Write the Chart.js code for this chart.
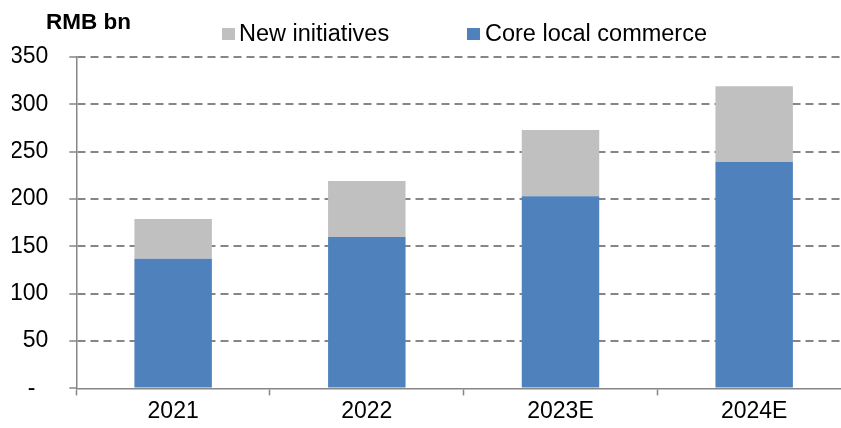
<!DOCTYPE html>
<html>
<head>
<meta charset="utf-8">
<script src="https://cdn.jsdelivr.net/npm/chart.js@4"></script>
<style>
  html, body { margin: 0; padding: 0; background: #fff; overflow: hidden; }
  #wrap { position: relative; width: 841px; height: 428px; overflow: hidden; }
  #chart { position: absolute; left: 0; top: 0; }
  .txt { position: absolute; font-family: "Liberation Sans", Arial, sans-serif; color: #000; white-space: nowrap; }
  #unit { left: 46px; top: 10px; font-size: 22.5px; line-height: 24px; font-weight: bold; }
  .key { position: absolute; width: 13px; height: 12px; top: 28px; }
  .lab { font-size: 23.5px; line-height: 24px; top: 21px; }
</style>
</head>
<body>
<div id="wrap">
  <canvas id="chart" width="851" height="428"></canvas>
  <div class="txt" id="unit">RMB bn</div>
  <div id="legend"></div>
</div>
<script>
// Revenue split by year, RMB bn
const years = ['2021', '2022', '2023E', '2024E'];
const coreLocalCommerce = [137, 160, 203, 239];
const newInitiatives = [42, 59, 70, 80];
const seriesNames = ['Core local commerce', 'New initiatives'];
const seriesColors = ['#4F81BD', '#C0C0C0'];
const yTicks = [0, 50, 100, 150, 200, 250, 300, 350];

const axisGrey = '#868686';
const tickFont = { family: '"Liberation Sans", Arial, sans-serif', size: 23 };

// Legend row above the plot (New initiatives first, then Core local commerce)
const legendItems = [
  { name: seriesNames[1], color: seriesColors[1], boxX: 222, textX: 239 },
  { name: seriesNames[0], color: seriesColors[0], boxX: 467, textX: 485 }
];
const legendEl = document.getElementById('legend');
legendItems.forEach(it => {
  const box = document.createElement('div');
  box.className = 'key';
  box.style.left = it.boxX + 'px';
  box.style.background = it.color;
  legendEl.appendChild(box);
  const t = document.createElement('div');
  t.className = 'txt lab';
  t.style.left = it.textX + 'px';
  t.textContent = it.name;
  legendEl.appendChild(t);
});

new Chart(document.getElementById('chart'), {
  type: 'bar',
  data: {
    labels: years,
    datasets: [
      { label: seriesNames[0], data: coreLocalCommerce, backgroundColor: seriesColors[0], borderWidth: 0 },
      { label: seriesNames[1], data: newInitiatives, backgroundColor: seriesColors[1], borderWidth: 0 }
    ]
  },
  options: {
    responsive: false,
    animation: false,
    layout: { padding: { left: 12, right: 0, top: 57, bottom: 1 } },
    datasets: { bar: { categoryPercentage: 1.0, barPercentage: 0.4 } },
    plugins: { legend: { display: false }, tooltip: { enabled: false }, title: { display: false } },
    scales: {
      x: {
        stacked: true,
        offset: true,
        grid: {
          offset: true,
          drawOnChartArea: false,
          drawTicks: true,
          tickLength: 7,
          tickColor: axisGrey,
          tickWidth: 1.5,
          color: axisGrey
        },
        border: { display: true, color: axisGrey, width: 1.5 },
        ticks: { color: '#000', font: tickFont, padding: 2, maxRotation: 0 }
      },
      y: {
        stacked: true,
        min: yTicks[0],
        max: yTicks[yTicks.length - 1],
        afterBuildTicks: (scale) => { scale.ticks = yTicks.map(v => ({ value: v })); },
        afterFit: (scale) => { scale.width = 64.3; },
        grid: {
          // the baseline is drawn by the x axis itself, so skip the dashed line at zero
          color: (ctx) => (ctx.tick && ctx.tick.value === 0 ? 'rgba(0,0,0,0)' : axisGrey),
          lineWidth: 2,
          drawTicks: true,
          tickLength: 7,
          tickColor: axisGrey,
          tickWidth: 1.5,
          tickBorderDash: []
        },
        border: { display: true, color: axisGrey, width: 1.5, dash: [8, 5] },
        ticks: {
          color: '#000',
          font: tickFont,
          padding: 21,
          callback: (v) => (v === 0 ? '-  ' : String(v))
        }
      }
    }
  }
});
</script>
</body>
</html>
